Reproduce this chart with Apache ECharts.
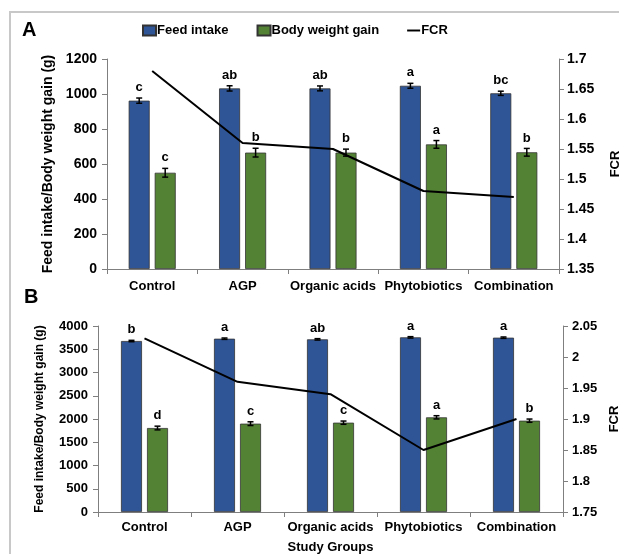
<!DOCTYPE html>
<html>
<head>
<meta charset="utf-8">
<script src="https://cdn.jsdelivr.net/npm/echarts@6/dist/echarts.min.js"></script>
<style>
  html, body { margin: 0; padding: 0; background: #fff; }
  #chart { width: 619px; height: 554px; }
</style>
</head>
<body>
<div id="chart"></div>
<script>
const groups = ['Control', 'AGP', 'Organic acids', 'Phytobiotics', 'Combination']

// panel A
const feedA = [962, 1032, 1032, 1047, 1004]
const feedAErr = [15, 15, 14, 14, 12]
const feedALetters = ['c', 'ab', 'ab', 'a', 'bc']
const bwgA = [550, 665, 665, 712, 667]
const bwgAErr = [25, 25, 20, 22, 22]
const bwgALetters = ['c', 'b', 'b', 'a', 'b']
const fcrA = [1.68, 1.56, 1.55, 1.48, 1.47]

// panel B
const feedB = [3677, 3727, 3713, 3756, 3749]
const feedBErr = [15, 15, 15, 15, 15]
const feedBLetters = ['b', 'a', 'ab', 'a', 'a']
const bwgB = [1806, 1900, 1921, 2036, 1964]
const bwgBErr = [40, 40, 35, 35, 35]
const bwgBLetters = ['d', 'c', 'c', 'a', 'b']
const fcrB = [2.03, 1.96, 1.94, 1.85, 1.90]

const BLUE = '#2F5597'
const GREEN = '#548235'
const FONT = 'Liberation Sans'

function errData(vals, errs, letters) {
  return vals.map((v, i) => [i, v, errs[i], letters[i]])
}

function errSeries(xi, yi, vals, errs, letters, offset) {
  return {
    type: 'custom',
    xAxisIndex: xi,
    yAxisIndex: yi,
    data: errData(vals, errs, letters),
    encode: { x: 0, y: 1 },
    z: 5,
    silent: true,
    renderItem(params, api) {
      const c = api.coord([api.value(0), api.value(1)])
      const x = c[0] + offset
      const top = api.coord([api.value(0), api.value(1) + api.value(2)])[1]
      const bot = api.coord([api.value(0), api.value(1) - api.value(2)])[1]
      const st = { stroke: '#000', lineWidth: 1.5 }
      return {
        type: 'group',
        children: [
          { type: 'line', shape: { x1: x, y1: top, x2: x, y2: bot }, style: st },
          { type: 'line', shape: { x1: x - 3, y1: top, x2: x + 3, y2: top }, style: st },
          { type: 'line', shape: { x1: x - 3, y1: bot, x2: x + 3, y2: bot }, style: st },
          {
            type: 'text',
            x: x,
            y: top - 4,
            style: {
              text: letters[params.dataIndex],
              font: 'bold 13px ' + FONT,
              fill: '#000',
              align: 'center',
              verticalAlign: 'bottom'
            }
          }
        ]
      }
    }
  }
}

const axisText = size => ({ color: '#000', fontWeight: 'bold', fontSize: size, fontFamily: FONT })
const axisLine = { show: true, lineStyle: { color: '#7f7f7f', width: 1 } }
const axisTick = { show: true, length: 5, lineStyle: { color: '#7f7f7f' } }

function fmt(v) { return String(+v.toFixed(2)) }

const chart = echarts.init(document.getElementById('chart'))
chart.setOption({
  animation: false,
  textStyle: { fontFamily: FONT },
  graphic: [
    { type: 'rect', shape: { x: 10, y: 12, width: 640, height: 600 }, style: { fill: 'none', stroke: '#c8c8c8', lineWidth: 2 } },
    { type: 'text', left: 22, top: 20, style: { text: 'A', font: 'bold 20px ' + FONT, fill: '#000' } },
    { type: 'text', left: 24, top: 287, style: { text: 'B', font: 'bold 20px ' + FONT, fill: '#000' } }
  ],
  legend: {
    left: 137,
    top: 19,
    itemGap: 28,
    itemWidth: 13,
    itemHeight: 10,
    textStyle: { color: '#000', fontWeight: 'bold', fontSize: 13, fontFamily: FONT, padding: [0, 0, 0, -4] },
    data: [
      { name: 'Feed intake', icon: 'rect' },
      { name: 'Body weight gain', icon: 'rect' },
      { name: 'FCR', icon: 'path://M0,0 L20,0 L20,3 L0,3 Z', itemStyle: { color: '#000' } }
    ]
  },
  grid: [
    { left: 107, right: 60, top: 59, bottom: 285, outerBoundsMode: 'none', containLabel: false },
    { left: 98, right: 56, top: 326, bottom: 42, outerBoundsMode: 'none', containLabel: false }
  ],
  xAxis: [
    {
      type: 'category', gridIndex: 0, data: groups,
      axisLine, axisTick,
      axisLabel: { ...axisText(13), margin: 11, interval: 0 }
    },
    {
      type: 'category', gridIndex: 1, data: groups,
      axisLine, axisTick,
      axisLabel: { ...axisText(13), margin: 9, interval: 0 },
      name: 'Study Groups', nameLocation: 'middle', nameGap: 29,
      nameTextStyle: axisText(13)
    }
  ],
  yAxis: [
    {
      type: 'value', gridIndex: 0, min: 0, max: 1200, interval: 200,
      axisLine, axisTick, splitLine: { show: false },
      axisLabel: { ...axisText(14), margin: 10, formatter: String },
      name: 'Feed intake/Body weight gain (g)', nameLocation: 'middle', nameGap: 52,
      nameTextStyle: axisText(14)
    },
    {
      type: 'value', gridIndex: 0, position: 'right', min: 1.35, max: 1.7, interval: 0.05,
      axisLine, axisTick, splitLine: { show: false },
      axisLabel: { ...axisText(14), margin: 8, formatter: fmt },
      name: 'FCR', nameLocation: 'middle', nameGap: 50, nameRotate: 90,
      nameTextStyle: axisText(13)
    },
    {
      type: 'value', gridIndex: 1, min: 0, max: 4000, interval: 500,
      axisLine, axisTick, splitLine: { show: false },
      axisLabel: { ...axisText(13), margin: 10, formatter: String },
      name: 'Feed intake/Body weight gain (g)', nameLocation: 'middle', nameGap: 52,
      nameTextStyle: axisText(12)
    },
    {
      type: 'value', gridIndex: 1, position: 'right', min: 1.75, max: 2.05, interval: 0.05,
      axisLine, axisTick, splitLine: { show: false },
      axisLabel: { ...axisText(13), margin: 9, formatter: fmt },
      name: 'FCR', nameLocation: 'middle', nameGap: 39, nameRotate: 90,
      nameTextStyle: axisText(13)
    }
  ],
  series: [
    {
      name: 'Feed intake', type: 'bar', xAxisIndex: 0, yAxisIndex: 0, data: feedA,
      barWidth: 21, barGap: '24%',
      itemStyle: { color: BLUE, borderColor: '#333', borderWidth: 0.8 }
    },
    {
      name: 'Body weight gain', type: 'bar', xAxisIndex: 0, yAxisIndex: 0, data: bwgA,
      barWidth: 21, barGap: '24%',
      itemStyle: { color: GREEN, borderColor: '#333', borderWidth: 0.8 }
    },
    {
      name: 'FCR', type: 'line', xAxisIndex: 0, yAxisIndex: 1, data: fcrA,
      showSymbol: false, lineStyle: { color: '#000', width: 2 }, itemStyle: { color: '#000' }, z: 6
    },
    errSeries(0, 0, feedA, feedAErr, feedALetters, -13),
    errSeries(0, 0, bwgA, bwgAErr, bwgALetters, 13),
    {
      name: 'Feed intake', type: 'bar', xAxisIndex: 1, yAxisIndex: 2, data: feedB,
      barWidth: 21, barGap: '24%',
      itemStyle: { color: BLUE, borderColor: '#333', borderWidth: 0.8 }
    },
    {
      name: 'Body weight gain', type: 'bar', xAxisIndex: 1, yAxisIndex: 2, data: bwgB,
      barWidth: 21, barGap: '24%',
      itemStyle: { color: GREEN, borderColor: '#333', borderWidth: 0.8 }
    },
    {
      name: 'FCR', type: 'line', xAxisIndex: 1, yAxisIndex: 3, data: fcrB,
      showSymbol: false, lineStyle: { color: '#000', width: 2 }, itemStyle: { color: '#000' }, z: 6
    },
    errSeries(1, 2, feedB, feedBErr, feedBLetters, -13),
    errSeries(1, 2, bwgB, bwgBErr, bwgBLetters, 13)
  ]
})
</script>
</body>
</html>
